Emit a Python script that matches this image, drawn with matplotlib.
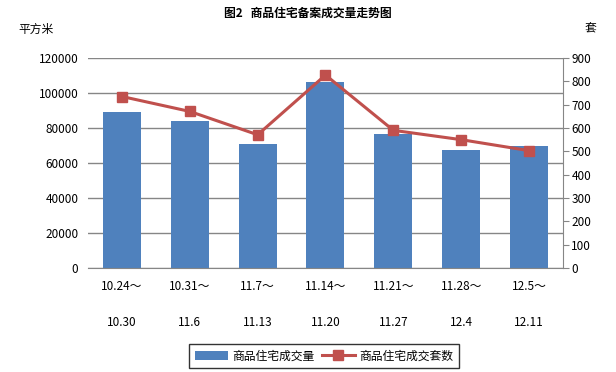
import matplotlib
matplotlib.use("Agg")
import matplotlib.pyplot as plt
import numpy as np

plt.rcParams['font.family'] = ['Noto Sans CJK SC', 'DejaVu Sans']

# 周次
weeks_start = ['10.24～', '10.31～', '11.7～', '11.14～', '11.21～', '11.28～', '12.5～']
weeks_end = ['10.30', '11.6', '11.13', '11.20', '11.27', '12.4', '12.11']
# 成交面积 (平方米)
area = [88900, 84200, 71000, 106500, 76700, 67600, 69900]
# 成交套数
units = [735, 671, 571, 827, 590, 550, 503]

blue = '#4F81BD'
red = '#C0504D'
grey = '#868686'

fig = plt.figure(figsize=(6.16, 3.72), dpi=100)
ax = fig.add_axes([88/616, 1 - 268/372, 475/616, 210/372])
ax2 = ax.twinx()

x = np.arange(len(area))
b = ax.bar(x, area, width=0.56, color=blue, zorder=2, label='商品住宅成交量')
ln, = ax2.plot(x, units, color=red, lw=2.2, marker='s', ms=7,
               label='商品住宅成交套数', zorder=3)

ax.set_xlim(-0.5, len(area) - 0.5)
ax.set_ylim(0, 120000)
ax.set_yticks(np.arange(0, 120001, 20000))
ax2.set_ylim(0, 900)
ax2.set_yticks(np.arange(0, 901, 100))

ax.yaxis.grid(True, color=grey, lw=1)
ax.set_axisbelow(True)

for s in ['top', 'left', 'right']:
    ax.spines[s].set_visible(False)
ax2.spines['top'].set_visible(False)
ax2.spines['left'].set_visible(False)
ax2.spines['bottom'].set_visible(False)
ax.spines['bottom'].set_color(grey)
ax2.spines['right'].set_color(grey)

ax.tick_params(axis='y', length=0, labelsize=8.5, pad=7)
ax2.tick_params(axis='y', length=4, color=grey, labelsize=8.5, pad=2)
ax.tick_params(axis='x', length=0, labelsize=8.5, pad=9)
ax.set_xticks(x)
ax.set_xticklabels([s + '\n\n' + e for s, e in zip(weeks_start, weeks_end)],
                   linespacing=1.45)

fig.text(0.5, 1 - 13/372, '图2   商品住宅备案成交量走势图', ha='center', va='center',
         fontsize=8.5, fontweight='bold')
fig.text(18/616, 1 - 29/372, '平方米', ha='left', va='center', fontsize=8.5)
fig.text(590/616, 1 - 29/372, '套', ha='center', va='center', fontsize=8.5)

leg = fig.legend(handles=[b, ln], loc='center', bbox_to_anchor=(324/616, 1 - 356/372),
                 ncol=2, fontsize=8.5, frameon=True, fancybox=False, edgecolor='black',
                 handlelength=2.8, columnspacing=0.6, handletextpad=0.4,
                 borderpad=0.5)
leg.get_frame().set_linewidth(1)

fig.savefig('out.png', dpi=100)
